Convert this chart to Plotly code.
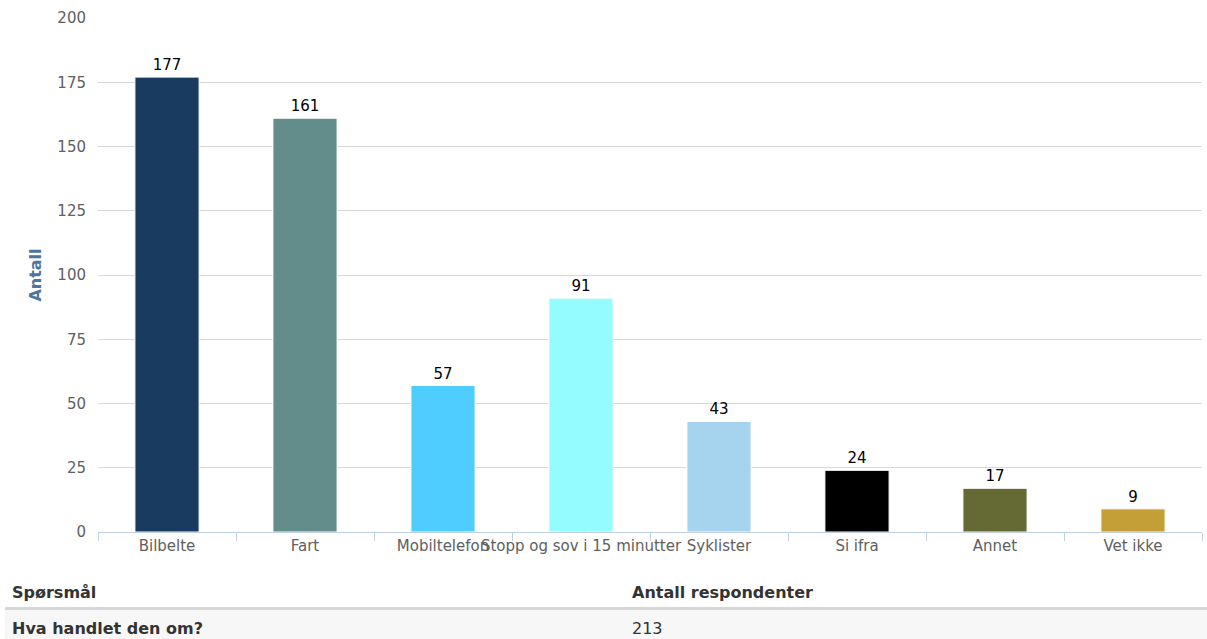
import plotly.graph_objects as go

# Answers to "Hva handlet den om?" and respondent counts
categories = ["Bilbelte", "Fart", "Mobiltelefon", "Stopp og sov i 15 minutter",
              "Syklister", "Si ifra", "Annet", "Vet ikke"]
counts = [177, 161, 57, 91, 43, 24, 17, 9]
bar_colors = ["#193b60", "#638d8a", "#4ecdfe", "#94fbfe", "#a6d3ee",
              "#000000", "#656a34", "#c49f38"]
y_ticks = [0, 25, 50, 75, 100, 125, 150, 175, 200]

question = "Hva handlet den om?"
respondents = 213

W, H = 1207, 639
M_L, M_R, M_T, M_B = 98, 5, 18, 107
plot_h = H - M_T - M_B
font_family = "DejaVu Sans, Verdana, sans-serif"


def py(pixel_y):
    """Convert a pixel row (from page top) into paper y coordinate."""
    return (H - M_B - pixel_y) / plot_h


def px(pixel_x):
    return (pixel_x - M_L) / (W - M_L - M_R)


fig = go.Figure(
    go.Bar(
        x=categories,
        y=counts,
        marker=dict(color=bar_colors, line=dict(color="#ffffff", width=1)),
        text=counts,
        textposition="outside",
        textfont=dict(family=font_family, size=15, color="#000000"),
        cliponaxis=False,
        hoverinfo="x+y",
    )
)

fig.update_layout(
    width=W,
    height=H,
    margin=dict(l=M_L, r=M_R, t=M_T, b=M_B),
    paper_bgcolor="#ffffff",
    plot_bgcolor="#ffffff",
    bargap=0.535,
    showlegend=False,
    font=dict(family=font_family, size=15, color="#606060"),
)

fig.update_xaxes(
    type="category",
    tickangle=0,
    tickson="boundaries",
    ticks="outside",
    ticklen=8,
    tickcolor="#c0d0e0",
    showline=True,
    linecolor="#c0d0e0",
    linewidth=1,
    showgrid=False,
    tickfont=dict(family=font_family, size=15, color="#606060"),
)

fig.update_yaxes(
    range=[0, 200],
    tickvals=y_ticks,
    showgrid=True,
    gridcolor="#d8d8d8",
    gridwidth=1,
    zeroline=False,
    ticks="",
    ticklabelstandoff=11,
    tickfont=dict(family=font_family, size=15, color="#606060"),
    title=dict(
        text="<b>Antall</b>",
        font=dict(family=font_family, size=16, color="#4d759e"),
        standoff=11,
    ),
)

# Summary table under the chart
fig.add_shape(type="rect", xref="paper", yref="paper",
              x0=px(5), x1=px(1207), y0=py(610), y1=py(639),
              fillcolor="#f7f7f7", line=dict(width=0), layer="below")
fig.add_shape(type="line", xref="paper", yref="paper",
              x0=px(5), x1=px(1207), y0=py(608.5), y1=py(608.5),
              line=dict(color="#d6d6d6", width=3))

table_font = dict(family=font_family, size=16, color="#333333")
fig.add_annotation(text="<b>Spørsmål</b>", xref="paper", yref="paper",
                   x=px(10), y=py(592), xanchor="left", yanchor="middle",
                   showarrow=False, font=table_font)
fig.add_annotation(text="<b>Antall respondenter</b>", xref="paper", yref="paper",
                   x=px(630), y=py(592), xanchor="left", yanchor="middle",
                   showarrow=False, font=table_font)
fig.add_annotation(text=f"<b>{question}</b>", xref="paper", yref="paper",
                   x=px(10), y=py(628), xanchor="left", yanchor="middle",
                   showarrow=False, font=table_font)
fig.add_annotation(text=str(respondents), xref="paper", yref="paper",
                   x=px(630), y=py(628), xanchor="left", yanchor="middle",
                   showarrow=False, font=table_font)

fig.write_html("out.html")
